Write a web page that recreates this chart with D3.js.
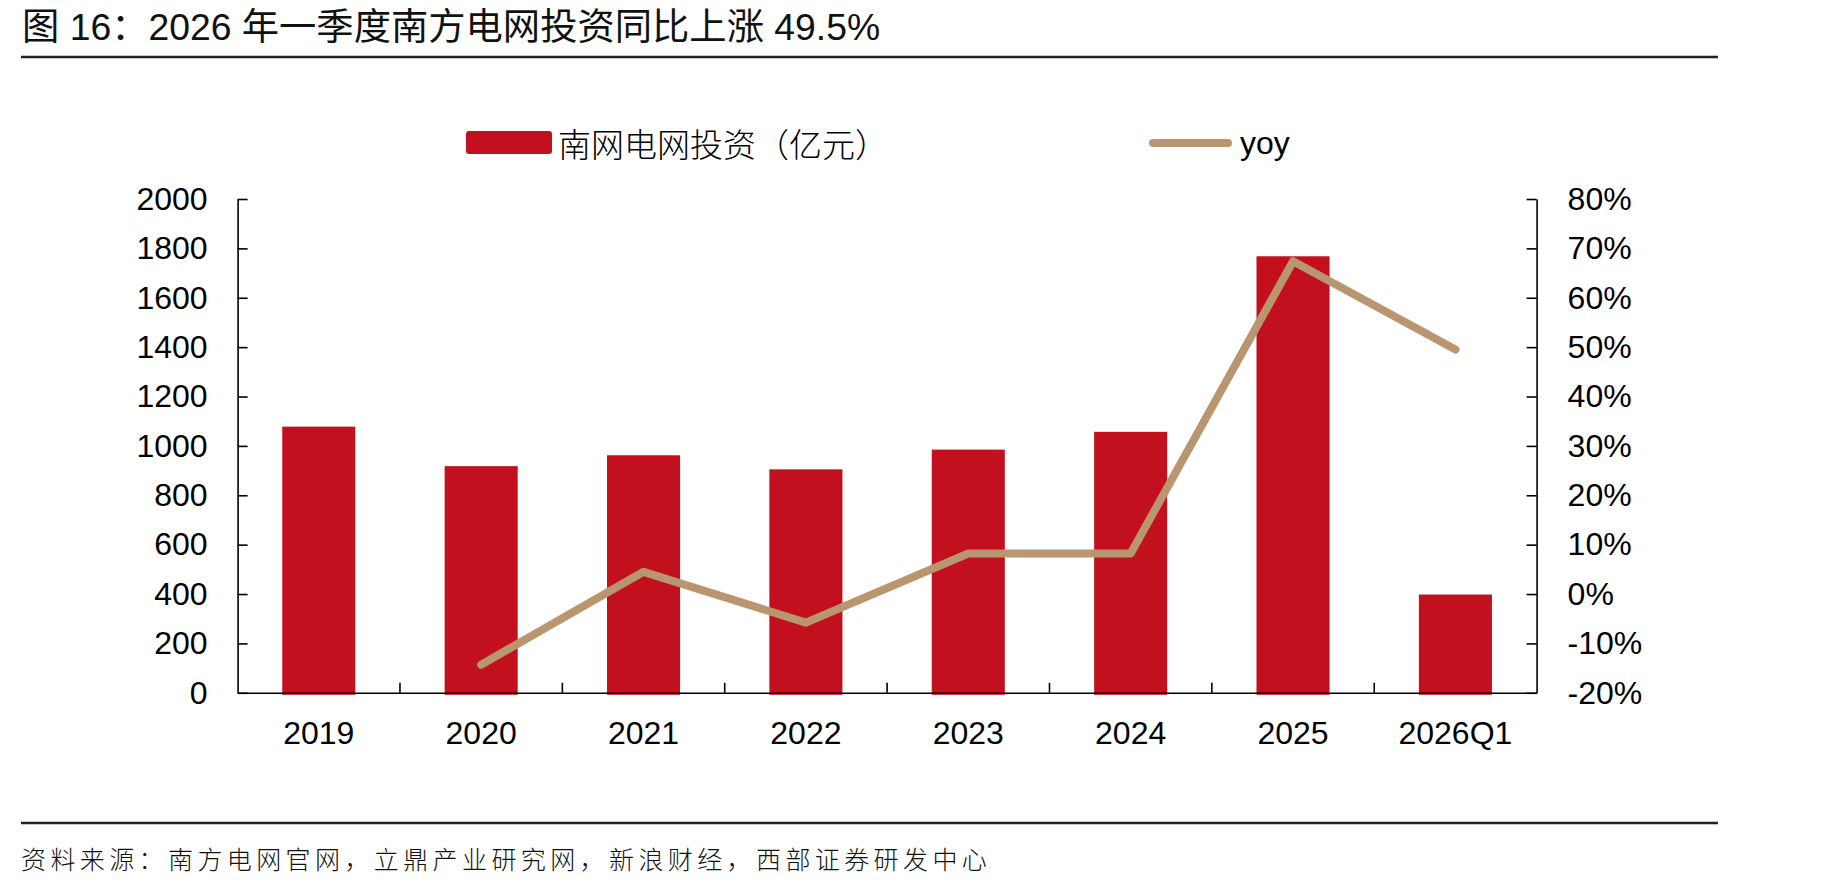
<!DOCTYPE html>
<html>
<head>
<meta charset="utf-8">
<script src="https://cdn.jsdelivr.net/npm/d3@7"></script>
<style>
  body { margin: 0; background: #fff; }
  svg { display: block; font-family: "Liberation Sans", Arial, "Noto Sans CJK SC", sans-serif; }
</style>
</head>
<body>
<div id="chart"></div>
<script>
const categories = ["2019", "2020", "2021", "2022", "2023", "2024", "2025", "2026Q1"];
const investment = [1078, 918, 962, 905, 985, 1057, 1768, 398];
const yoy = [null, -14.3, 4.5, -5.8, 8.2, 8.2, 67.4, 49.5];
const leftTicks = [0, 200, 400, 600, 800, 1000, 1200, 1400, 1600, 1800, 2000];
const rightTicks = [-20, -10, 0, 10, 20, 30, 40, 50, 60, 70, 80];

const width = 1835, height = 889;
const barColor = "#c3101e";
const lineColor = "#b9966f";
const plotLeft = 237.6, plotRight = 1536.6, plotTop = 199, plotBottom = 692.8;

const svg = d3.select("#chart").append("svg")
  .attr("width", width)
  .attr("height", height);

// title + rules
svg.append("text")
  .attr("x", 22)
  .attr("y", 40)
  .attr("font-size", "37.3px")
  .attr("fill", "#111")
  .text("图 16：2026 年一季度南方电网投资同比上涨 49.5%");

svg.append("line")
  .attr("x1", 21).attr("x2", 1718)
  .attr("y1", 57).attr("y2", 57)
  .attr("stroke", "#222").attr("stroke-width", 2.5);

svg.append("line")
  .attr("x1", 21).attr("x2", 1718)
  .attr("y1", 823).attr("y2", 823)
  .attr("stroke", "#222").attr("stroke-width", 2.5);

svg.append("text")
  .attr("x", 21)
  .attr("y", 869)
  .attr("font-size", "25px")
  .attr("letter-spacing", "4.4px")
  .attr("font-family", "'Noto Sans CJK SC', sans-serif")
  .attr("font-weight", 300)
  .attr("fill", "#111")
  .text("资料来源：南方电网官网，立鼎产业研究网，新浪财经，西部证券研发中心");

// scales
const x = d3.scaleBand()
  .domain(categories)
  .range([plotLeft, plotRight])
  .paddingInner(0.55)
  .paddingOuter(0.275);

const yLeft = d3.scaleLinear().domain([0, 2000]).range([plotBottom, plotTop]);
const yRight = d3.scaleLinear().domain([-20, 80]).range([plotBottom, plotTop]);

// bars
svg.append("g")
  .selectAll("rect")
  .data(investment)
  .enter()
  .append("rect")
  .attr("x", (d, i) => x(categories[i]))
  .attr("y", d => yLeft(d))
  .attr("width", x.bandwidth())
  .attr("height", d => yLeft(0) - yLeft(d) + 2)
  .attr("fill", barColor);

// axes
const leftAxis = svg.append("g")
  .attr("transform", `translate(${plotLeft},0)`)
  .call(d3.axisLeft(yLeft).tickValues(leftTicks).tickSizeInner(-10).tickSizeOuter(0).tickPadding(30)
    .tickFormat(d => String(d)));

const rightAxis = svg.append("g")
  .attr("transform", `translate(${plotRight},0)`)
  .call(d3.axisRight(yRight).tickValues(rightTicks).tickSizeInner(-10).tickSizeOuter(0).tickPadding(31)
    .tickFormat(d => d + "%"));

const bottomAxis = svg.append("g")
  .attr("transform", `translate(0,${plotBottom})`)
  .call(d3.axisBottom(x).tickSize(0).tickPadding(28.5));

[leftAxis, rightAxis, bottomAxis].forEach(g => {
  g.selectAll(".domain").attr("stroke", "#000").attr("stroke-width", 1.6);
  g.selectAll(".tick line").attr("stroke", "#000").attr("stroke-width", 1.6);
  g.selectAll(".tick text").attr("font-size", "32px").attr("fill", "#000")
    .attr("font-family", "'Liberation Sans', Arial, sans-serif");
});

// category boundary ticks on x axis
svg.append("g")
  .selectAll("line")
  .data(categories.slice(1))
  .enter()
  .append("line")
  .attr("x1", d => x(d) - x.step() * x.paddingInner() / 2)
  .attr("x2", d => x(d) - x.step() * x.paddingInner() / 2)
  .attr("y1", plotBottom)
  .attr("y2", plotBottom - 10)
  .attr("stroke", "#000")
  .attr("stroke-width", 1.6);

// yoy line
const line = d3.line()
  .defined(d => d.v !== null)
  .x(d => x(d.c) + x.bandwidth() / 2)
  .y(d => yRight(d.v));

svg.append("path")
  .datum(categories.map((c, i) => ({ c, v: yoy[i] })))
  .attr("d", line)
  .attr("fill", "none")
  .attr("stroke", lineColor)
  .attr("stroke-width", 8)
  .attr("stroke-linecap", "round")
  .attr("stroke-linejoin", "round");

// legend
const legend = svg.append("g").attr("font-size", "32px");

legend.append("rect")
  .attr("x", 466).attr("y", 131)
  .attr("width", 86).attr("height", 23)
  .attr("rx", 3)
  .attr("fill", barColor);

legend.append("text")
  .attr("x", 558).attr("y", 143)
  .attr("font-size", "33px")
  .attr("dominant-baseline", "central")
  .attr("font-family", "'Noto Sans CJK SC', sans-serif")
  .attr("font-weight", 300)
  .attr("fill", "#000")
  .text("南网电网投资（亿元）");

legend.append("line")
  .attr("x1", 1153).attr("x2", 1228)
  .attr("y1", 143).attr("y2", 143)
  .attr("stroke", lineColor)
  .attr("stroke-width", 8)
  .attr("stroke-linecap", "round");

legend.append("text")
  .attr("x", 1240).attr("y", 143)
  .attr("dominant-baseline", "central")
  .attr("fill", "#000")
  .text("yoy");
</script>
</body>
</html>
